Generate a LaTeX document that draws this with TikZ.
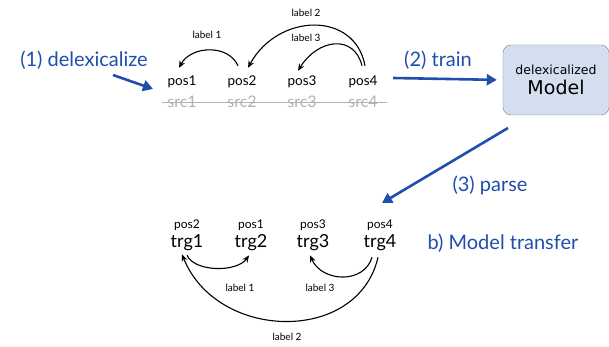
\documentclass[tikz,border=0pt]{standalone}
\usepackage{fontspec}
\setmainfont{Lato}
\newfontfamily\boxfont{DejaVu Sans}
\usetikzlibrary{positioning, arrows.meta}
\definecolor{stepblue}{HTML}{1F4EAE}
\definecolor{modelfill}{HTML}{D3DEEE}

\begin{document}
\begin{tikzpicture}[
    x=1pt, y=1pt,
    steplbl/.style={text=stepblue, font=\fontsize{20}{22}\selectfont},
    tag/.style={font=\fontsize{13.5}{15}\selectfont, inner sep=0pt},
    smalltag/.style={font=\fontsize{12}{14}\selectfont, inner sep=0pt},
    src/.style={font=\fontsize{16}{18}\selectfont, text=black!30, inner sep=0pt},
    trg/.style={font=\fontsize{18}{20}\selectfont, inner sep=0pt},
    lbl/.style={font=\fontsize{10}{12}\selectfont},
    dep/.style={-{Stealth[length=7pt, width=6pt]}, line width=1.1pt},
    bigarr/.style={-{Triangle[length=10pt, width=11pt]}, line width=2.6pt, draw=stepblue}
]
\useasboundingbox (0,0) rectangle (609,347);

% (1) source side
\node[steplbl] (delex) at (84,287) {(1) delexicalize};
\coordinate (dstart) at (113,272);
\coordinate (dend) at (153,258);
\draw[bigarr] (dstart) -- (dend);

\node[tag] (pos1) at (182,265) {pos1};
\node[tag] (pos2) at (242,265) {pos2};
\node[tag] (pos3) at (302,265) {pos3};
\node[tag] (pos4) at (363,265) {pos4};
\node[src] (src1) at (182,245) {src1};
\node[src] (src2) at (242,245) {src2};
\node[src] (src3) at (302,245) {src3};
\node[src] (src4) at (363,245) {src4};
\draw[black!30, line width=0.8pt] ([xshift=-20pt]src1.center) -- ([xshift=24pt]src4.center);

\draw[dep] ([shift={(-4,10)}]pos2.north) .. controls +(-10,22) and +(12,22) .. ([shift={(-3,8)}]pos1.north);
\draw[dep] ([shift={(2,10)}]pos4.north) .. controls +(-10,55) and +(30,55) .. ([shift={(6,8)}]pos2.north);
\draw[dep] ([shift={(-1,10)}]pos4.north) .. controls +(-8,32) and +(20,32) .. ([shift={(-4,5)}]pos3.north);
\node[lbl] (l1top) at (207,312) {label 1};
\node[lbl] (l2top) at (306,334) {label 2};
\node[lbl] (l3top) at (306,309) {label 3};

% (2) training
\node[draw=black!50, fill=modelfill, rounded corners=8pt, minimum width=106pt, minimum height=70pt,
      align=center, inner sep=2pt, font=\boxfont] (model) at (556,267)
      {{\fontsize{12.5}{16}\selectfont delexicalized}\\[4pt]{\fontsize{19}{20}\selectfont Model}};
\coordinate (tstart) at (393,269);
\draw[bigarr, shorten >=6pt] (tstart) -- (model.west);
\node[steplbl] (train) at (438,287) {(2) train};

% (3) parsing
\coordinate (pstart) at (508,219);
\coordinate (pend) at (382,144);
\draw[bigarr] (pstart) -- (pend);
\node[steplbl] (parse) at (490,162) {(3) parse};

% b) target side
\node[smalltag] (tp1) at (187,122) {pos2};
\node[smalltag] (tp2) at (251,122) {pos1};
\node[smalltag] (tp3) at (313,122) {pos3};
\node[smalltag] (tp4) at (380,122) {pos4};
\node[trg] (trg1) at (187,104) {trg1};
\node[trg] (trg2) at (251,104) {trg2};
\node[trg] (trg3) at (313,104) {trg3};
\node[trg] (trg4) at (380,104) {trg4};
\node[steplbl, anchor=west] (transfer) at (424,104) {b) Model transfer};

\draw[dep] ([shift={(0,-4)}]trg1.south) .. controls +(8,-17) and +(-12,-17) .. ([shift={(-2,-4)}]trg2.south);
\draw[dep] ([shift={(-8,-6)}]trg4.south) .. controls +(-8,-27) and +(12,-27) .. ([shift={(-3,-4)}]trg3.south);
\draw[dep] ([shift={(-2,-6)}]trg4.south) .. controls +(-20,-87) and +(35,-87) .. ([shift={(-5,-3)}]trg1.south);
\node[lbl] (l1bot) at (240,59) {label 1};
\node[lbl] (l3bot) at (320,59) {label 3};
\node[lbl] (l2bot) at (287,10) {label 2};
\end{tikzpicture}
\end{document}
